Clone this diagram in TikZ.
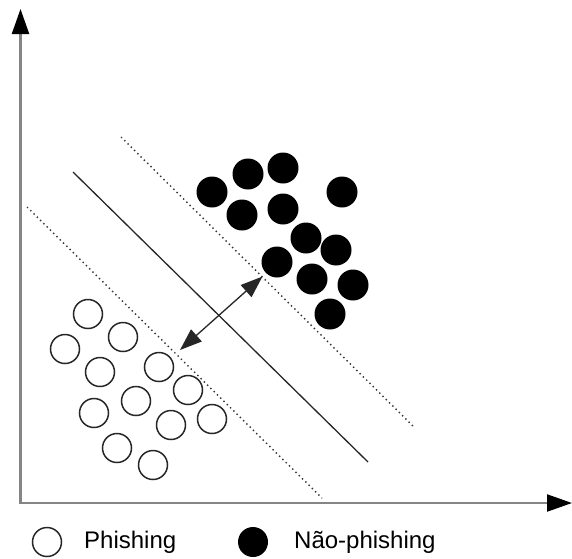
\documentclass[tikz,border=0pt]{standalone}
\usepackage{fontspec}
\setmainfont{Liberation Sans}
\usetikzlibrary{arrows.meta}
\begin{document}
\begin{tikzpicture}[x=1pt,y=-1pt,
  axisline/.style={draw=black!48, line width=2.2pt, {Triangle[length=25pt,width=17pt,color=black]}-{Triangle[length=25pt,width=17pt,color=black]}},
  sepline/.style={draw=black!85, line width=1.3pt},
  marginline/.style={draw=black!80, line width=1.4pt, dash pattern=on 1.4pt off 3.2pt},
  opendot/.style={circle, draw=black!85, line width=1.5pt, fill=white, minimum size=29pt, inner sep=0pt},
  fulldot/.style={circle, fill=black, minimum size=31pt, inner sep=0pt},
  legtext/.style={anchor=base west, inner sep=0pt, font=\fontsize{24}{28}\selectfont},
  gaparrow/.style={line width=1.3pt, draw=black!85, {Triangle[length=22pt,width=16pt]}-{Triangle[length=22pt,width=16pt]}}
]
\useasboundingbox (0,0) rectangle (572,558);

% axes
\coordinate (ytip) at (20.5,9);
\coordinate (orig) at (20.5,503);
\coordinate (xtip) at (572,503);
\draw[axisline] (ytip) -- (orig) -- (xtip);

% separating lines
\coordinate (s1) at (73,172);  \coordinate (s2) at (368,462);
\coordinate (u1) at (121,137); \coordinate (u2) at (415,428);
\coordinate (l1) at (27,207);  \coordinate (l2) at (322,498);
\draw[sepline] (s1) -- (s2);
\draw[marginline] (u1) -- (u2);
\draw[marginline] (l1) -- (l2);

% margin arrow
\coordinate (g1) at (180,350);
\coordinate (g2) at (262.5,276.5);
\draw[gaparrow] (g1) -- (g2);

% open circles (Phishing)
\node[opendot] (p1) at (88,314) {};
\node[opendot] (p2) at (123,337) {};
\node[opendot] (p3) at (65,349) {};
\node[opendot] (p4) at (100,372) {};
\node[opendot] (p5) at (159,367) {};
\node[opendot] (p6) at (188,390) {};
\node[opendot] (p7) at (136,401) {};
\node[opendot] (p8) at (94,413) {};
\node[opendot] (p9) at (171,425) {};
\node[opendot] (p10) at (212,419) {};
\node[opendot] (p11) at (117,448) {};
\node[opendot] (p12) at (153,465) {};

% filled circles (Nao-phishing)
\node[fulldot] (n1) at (212,192) {};
\node[fulldot] (n2) at (248,174) {};
\node[fulldot] (n3) at (283,168) {};
\node[fulldot] (n4) at (342,192) {};
\node[fulldot] (n5) at (242,215) {};
\node[fulldot] (n6) at (283,209) {};
\node[fulldot] (n7) at (306,238) {};
\node[fulldot] (n8) at (336,250) {};
\node[fulldot] (n9) at (277,262) {};
\node[fulldot] (n10) at (312,279) {};
\node[fulldot] (n11) at (353,285) {};
\node[fulldot] (n12) at (330,314) {};

% legend
\node[opendot] (lp) at (47,542) {};
\node[legtext] (lpt) at (84,548) {Phishing};
\node[fulldot, minimum size=30pt] (ln) at (253,542) {};
\node[legtext] (lnt) at (294,548) {Não-phishing};
\end{tikzpicture}
\end{document}
